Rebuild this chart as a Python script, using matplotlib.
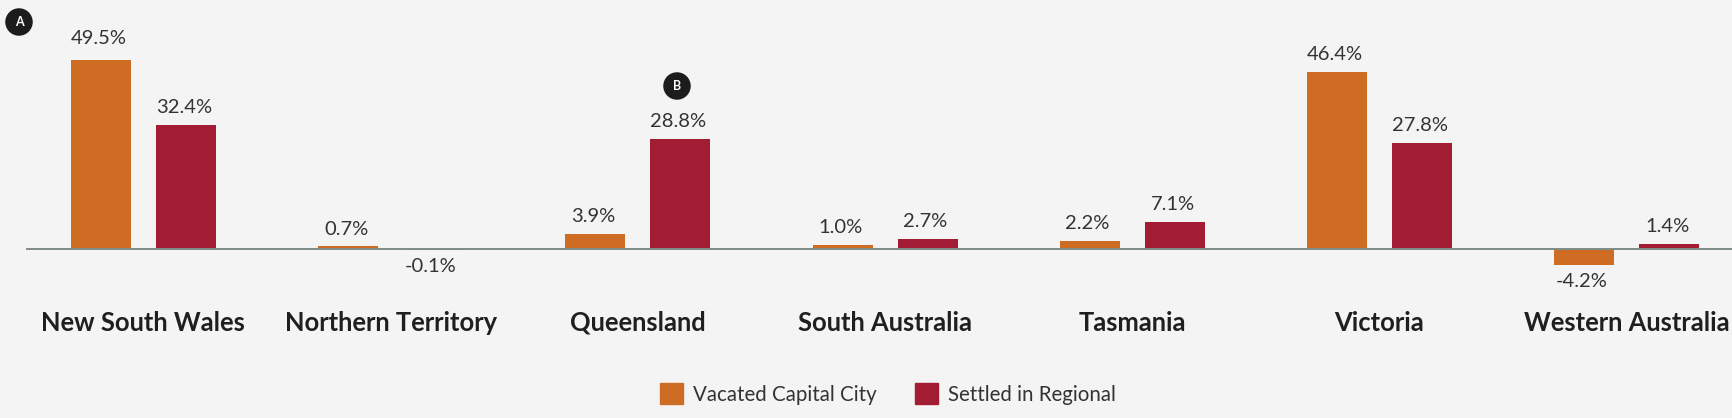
import numpy as np
import matplotlib
matplotlib.use('Agg')
import matplotlib.pyplot as plt
from matplotlib.patches import Patch

# data
states = ['New South Wales', 'Northern Territory', 'Queensland', 'South Australia',
          'Tasmania', 'Victoria', 'Western Australia']
vacated = [49.5, 0.7, 3.9, 1.0, 2.2, 46.4, -4.2]
settled = [32.4, -0.1, 28.8, 2.7, 7.1, 27.8, 1.4]
series_names = ['Vacated Capital City', 'Settled in Regional']

W, H = 1732, 418
BG = '#f4f4f4'
ORANGE = '#ce6c23'
RED = '#a21d33'
plt.rcParams['font.family'] = 'Lato'

fig = plt.figure(figsize=(W / 100, H / 100), dpi=100, facecolor=BG)
ax = fig.add_axes([26 / W, 0, (W - 26) / W, 1], facecolor=BG)

x = np.arange(len(states))
bar_w = 0.243
offset = 0.172
b1 = ax.bar(x - offset, vacated, bar_w, color=ORANGE)
b2 = ax.bar(x + offset, settled, bar_w, color=RED)
ax.axhline(0, color='#7f8c88', lw=1.4, zorder=1)

ax.set_xlim(-0.475, 6.426)
ax.set_ylim(-44.2, 65.2)
ax.axis('off')

# value labels
for bars, vals in [(b1, vacated), (b2, settled)]:
    for bar, v in zip(bars, vals):
        cx = bar.get_x() + bar.get_width() / 2
        dy = 12.5 if v >= 0 else -12
        if v == 49.5:  # this one sits a bit higher in the original
            dy = 15.5
        ax.annotate(f'{v:.1f}%', (cx, v), xytext=(-1.5, dy), textcoords='offset points',
                    ha='center', va='center', fontsize=14.5, color='#333333')

# state names under the bars
for i, name in enumerate(states):
    ax.annotate(name, (i, 0), xytext=(0, -53), textcoords='offset points', ha='center',
                va='center', fontsize=18.4, fontweight='bold', color='#1f1f1f',
                annotation_clip=False)

# A / B badges
for letter, px, py in [('A', 19, 22), ('B', 677, 86)]:
    fig.text(px / W, 1 - py / H, letter, ha='center', va='center', fontsize=9,
             fontweight='bold', color='white',
             bbox=dict(boxstyle='circle,pad=0.62', fc='#1c1c1c', ec='none'))

handles = [Patch(color=ORANGE, label=series_names[0]), Patch(color=RED, label=series_names[1])]
fig.legend(handles=handles, loc='center', bbox_to_anchor=(888 / W, 1 - 394 / H), ncol=2,
           frameon=False, fontsize=14.8, labelcolor='#333333', handlelength=1.12,
           handleheight=1.2, handletextpad=0.5, columnspacing=1.85)

fig.savefig('out.png', dpi=100, facecolor=BG)
